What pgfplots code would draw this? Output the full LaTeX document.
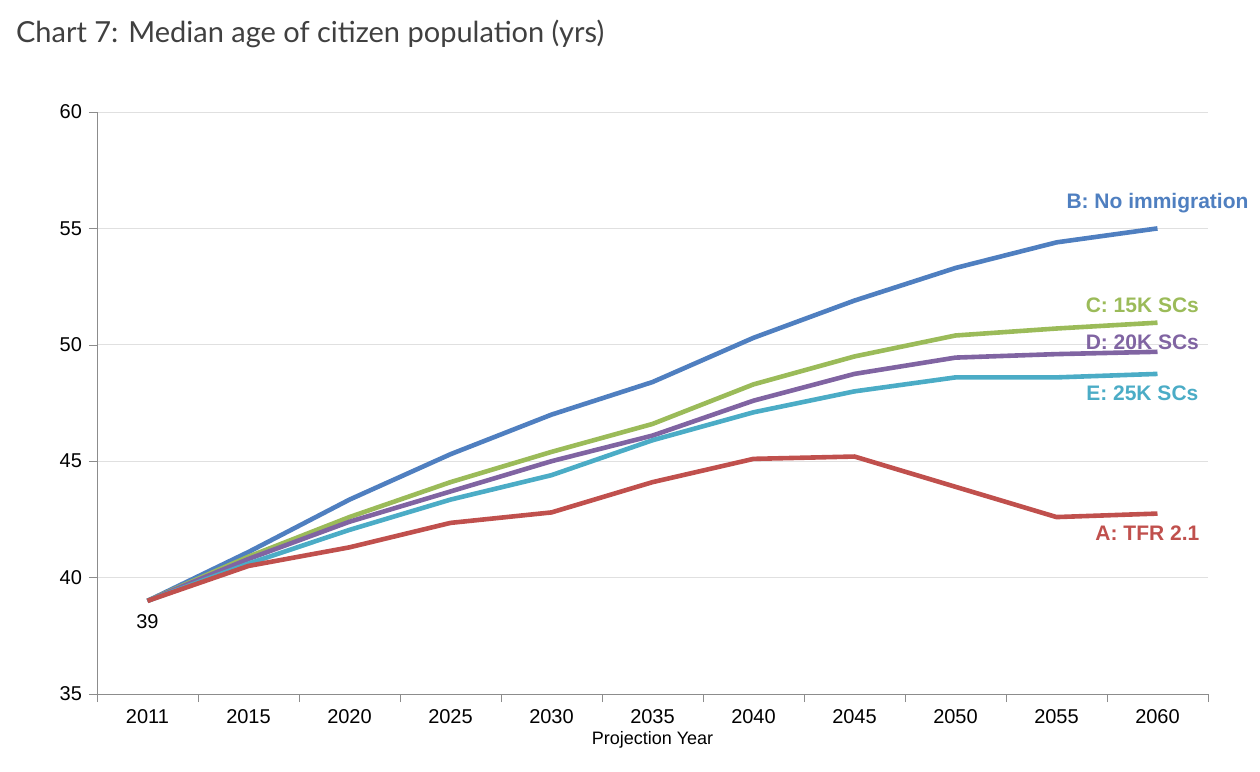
\documentclass[border=0pt]{standalone}
\usepackage{pgfplots}
\pgfplotsset{compat=1.18}
\usepackage{fontspec}
\setmainfont{Liberation Sans}
\newfontfamily\titlefont{Lato}
\definecolor{cB}{HTML}{4F7FC0}
\definecolor{cC}{HTML}{9BBB59}
\definecolor{cD}{HTML}{8064A2}
\definecolor{cE}{HTML}{4BACC6}
\definecolor{cA}{HTML}{C0504D}
\begin{document}
\begin{tikzpicture}
\useasboundingbox (-48.5pt,-39pt) rectangle (581.5pt,347pt);
\node[anchor=west,font=\titlefont\fontsize{14.5}{16}\selectfont,text=black!75] at (-44pt,330pt) {Chart 7: Median age of citizen population (yrs)};
\begin{axis}[at={(0,0)},anchor=south west,scale only axis,width=555.5pt,height=291pt,
 xmin=-0.5,xmax=10.5,ymin=35,ymax=60,ytick={35,40,...,60},
 xtick={0,...,10},xticklabels={2011,2015,2020,2025,2030,2035,2040,2045,2050,2055,2060},
 minor xtick={-0.5,0.5,...,10.5},major x tick style={draw=none},
 axis x line*=bottom, axis y line*=left, axis line style={black!45},
 tick style={black!45},minor tick length=4pt,major tick length=4pt,
 tick align=outside,
 ymajorgrids,grid style={black!12},
 tick label style={font=\fontsize{10}{11}\selectfont},
 /pgf/number format/assume math mode=true,
 xlabel={Projection Year},xlabel style={font=\fontsize{9}{10}\selectfont,yshift=3pt},
 clip=false]
\addplot[cB,line width=2.3pt] coordinates {(0,39)(1,41.1)(2,43.35)(3,45.3)(4,47.0)(5,48.4)(6,50.3)(7,51.9)(8,53.3)(9,54.4)(10,55.0)};
\addplot[cC,line width=2.3pt] coordinates {(0,39)(1,40.9)(2,42.6)(3,44.1)(4,45.4)(5,46.6)(6,48.3)(7,49.5)(8,50.4)(9,50.7)(10,50.95)};
\addplot[cD,line width=2.3pt] coordinates {(0,39)(1,40.8)(2,42.4)(3,43.7)(4,45.0)(5,46.1)(6,47.6)(7,48.75)(8,49.45)(9,49.6)(10,49.7)};
\addplot[cE,line width=2.3pt] coordinates {(0,39)(1,40.6)(2,42.05)(3,43.35)(4,44.4)(5,45.9)(6,47.1)(7,48.0)(8,48.6)(9,48.6)(10,48.75)};
\addplot[cA,line width=2.3pt] coordinates {(0,39)(1,40.5)(2,41.3)(3,42.35)(4,42.8)(5,44.1)(6,45.1)(7,45.2)(8,43.9)(9,42.6)(10,42.75)};
\node[font=\fontsize{10}{11}\selectfont] at (axis cs:0,38.1) {39};
\begin{scope}[font=\bfseries\fontsize{10.5}{12}\selectfont]
\node[text=cB] at (axis cs:10.0,56.1) {B: No immigration};
\node[text=cC] at (axis cs:9.85,51.7) {C: 15K SCs};
\node[text=cD] at (axis cs:9.85,50.1) {D: 20K SCs};
\node[text=cE] at (axis cs:9.85,47.9) {E: 25K SCs};
\node[text=cA] at (axis cs:9.9,41.9) {A: TFR 2.1};
\end{scope}
\end{axis}
\end{tikzpicture}
\end{document}
